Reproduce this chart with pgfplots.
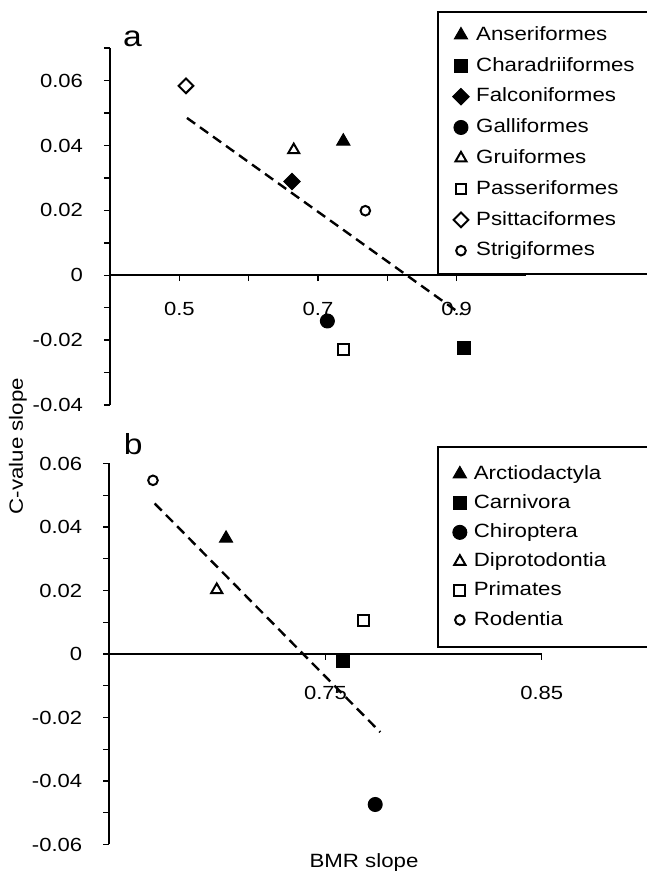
\documentclass[border=0pt]{standalone}
\usepackage{fontspec}
\setmainfont{Liberation Sans}[FakeStretch=1.16]
\usepackage{pgfplots}
\pgfplotsset{compat=1.18}

\pgfplotsset{
  panel/.style={
    scale only axis,
    anchor=south west,
    axis x line=middle,
    axis y line=left,
    axis line style={-, line width=0.8pt},
    tick style={black, line width=0.7pt},
    major tick length=3pt, minor tick length=3pt,
    tick align=outside,
    scaled ticks=false,
    hide obscured x ticks=false, hide obscured y ticks=false,
    ticklabel style={font=\fontsize{9.5}{11}\selectfont},
    yticklabel style={xshift=-7pt},
    clip=false,
    legend cell align=left,
    legend style={draw=black, line width=0.8pt, anchor=north west,
      inner xsep=7.5pt, inner ysep=7pt, column sep=3.5pt, row sep=6.2pt,
      font=\fontsize{9.6}{11}\selectfont,
      nodes={inner sep=0pt, text height=7.2pt, text depth=2pt, text width=86pt}},
  },
  trend/.style={black, line width=1.2pt, dash pattern=on 5pt off 3pt, forget plot},
  fmark/.style={only marks, mark options={fill=black, draw=black, line width=0.5pt},
    legend image code/.code={\draw[##1] plot coordinates {(0pt,0pt)};}},
  omark/.style={only marks, mark options={fill=white, draw=black, line width=1pt},
    legend image code/.code={\draw[##1] plot coordinates {(0pt,0pt)};}},
}

\begin{document}
\begin{tikzpicture}[font=\fontsize{9.6}{11}\selectfont]
\path[use as bounding box] (0,0) rectangle (323.5pt,437pt);

% panel a: birds
\begin{axis}[panel, at={(55pt,234.5pt)}, width=208pt, height=178.4pt,
  xmin=0.4, xmax=1.0, ymin=-0.04, ymax=0.07,
  xtick={0.5,0.7,0.9}, xticklabels={0.5,0.7,0.9}, minor xtick={0.6,0.8},
  xticklabel style={yshift=-7pt},
  ytick={-0.04,-0.02,0,0.02,0.04,0.06},
  yticklabels={-0.04,-0.02,0,0.02,0.04,0.06},
  minor ytick={-0.03,-0.01,0.01,0.03,0.05,0.07},
  legend style={at={(0.786,1.104)}}]
  \addplot[trend] coordinates {(0.511,0.0485) (0.907,-0.0121)};
  \addplot[fmark, mark=triangle*, mark size=3.8pt] coordinates {(0.7365,0.0413)};
  \addlegendentry{Anseriformes}
  \addplot[fmark, mark=square*, mark size=3.3pt] coordinates {(0.911,-0.0224)};
  \addlegendentry{Charadriiformes}
  \addplot[fmark, mark=square*, mark size=2.9pt,
    mark options={fill=black, draw=black, line width=0.5pt, rotate=45}] coordinates {(0.6625,0.0289)};
  \addlegendentry{Falconiformes}
  \addplot[fmark, mark=*, mark size=3.5pt] coordinates {(0.7135,-0.0141)};
  \addlegendentry{Galliformes}
  \addplot[omark, mark=triangle*, mark size=3.2pt] coordinates {(0.665,0.0386)};
  \addlegendentry{Gruiformes}
  \addplot[omark, mark=square*, mark size=2.7pt] coordinates {(0.7365,-0.0229)};
  \addlegendentry{Passeriformes}
  \addplot[omark, mark=square*, mark size=2.6pt,
    mark options={fill=white, draw=black, line width=1pt, rotate=45}] coordinates {(0.5096,0.0584)};
  \addlegendentry{Psittaciformes}
  \addplot[omark, mark=*, mark size=2.4pt] coordinates {(0.7683,0.0199)};
  \addlegendentry{Strigiformes}
\end{axis}

% panel b: mammals
\begin{axis}[panel, at={(54.65pt,14.75pt)}, width=216.2pt, height=190.5pt,
  xmin=0.65, xmax=0.85, ymin=-0.06, ymax=0.06,
  xtick={0.75,0.85}, xticklabels={0.75,0.85},
  xticklabel style={yshift=-9.5pt},
  ytick={-0.06,-0.04,-0.02,0,0.02,0.04,0.06},
  yticklabels={-0.06,-0.04,-0.02,0,0.02,0.04,0.06},
  minor ytick={-0.05,-0.03,-0.01,0.01,0.03,0.05},
  legend style={at={(0.758,1.046)}, row sep=5.4pt, inner ysep=9pt}]
  \addplot[trend] coordinates {(0.671,0.0474) (0.7753,-0.0246)};
  \addplot[fmark, mark=triangle*, mark size=3.8pt] coordinates {(0.704,0.0364)};
  \addlegendentry{Arctiodactyla}
  \addplot[fmark, mark=square*, mark size=3.3pt] coordinates {(0.7581,-0.0023)};
  \addlegendentry{Carnivora}
  \addplot[fmark, mark=*, mark size=3.5pt] coordinates {(0.773,-0.0474)};
  \addlegendentry{Chiroptera}
  \addplot[omark, mark=triangle*, mark size=3.2pt] coordinates {(0.6997,0.0202)};
  \addlegendentry{Diprotodontia}
  \addplot[omark, mark=square*, mark size=2.7pt] coordinates {(0.7676,0.0105)};
  \addlegendentry{Primates}
  \addplot[omark, mark=*, mark size=2.4pt] coordinates {(0.6702,0.0547)};
  \addlegendentry{Rodentia}
\end{axis}

\node[rotate=90] at (9pt,214pt) {C-value slope};
\node at (182pt,5.5pt) {BMR slope};
\node[anchor=base west, inner sep=0pt, font=\fontsize{14.5}{16}\selectfont] at (61.3pt,413.7pt) {a};
\node[anchor=base west, inner sep=0pt, font=\fontsize{14.5}{16}\selectfont] at (61.7pt,209.5pt) {b};
\end{tikzpicture}
\end{document}
